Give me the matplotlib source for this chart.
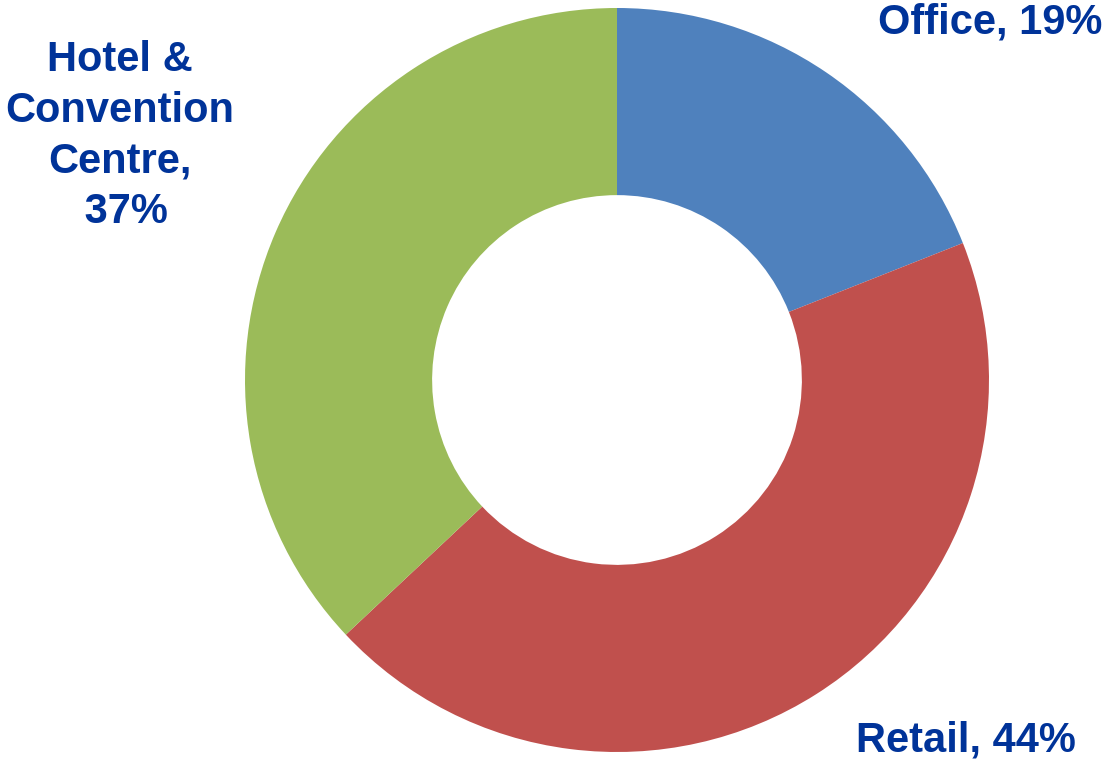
import matplotlib
matplotlib.use("Agg")
import matplotlib.pyplot as plt

categories = ["Office", "Retail", "Hotel & Convention Centre"]
values = [19, 44, 37]
colors = ["#4F81BD", "#C0504D", "#9BBB59"]
label_texts = ["Office, 19%", "Retail, 44%", "Hotel &\nConvention\nCentre,\n 37%"]

W, H = 1111, 761
fig = plt.figure(figsize=(W / 100, H / 100), dpi=100)
ax = fig.add_axes([0, 0, 1, 1])

cx, cy, R = 617, H - 380, 372
ax.pie(values, colors=colors, startangle=90, counterclock=False,
       center=(cx, cy), radius=R, frame=True,
       wedgeprops=dict(width=R * 0.503, linewidth=0))
ax.set_xlim(0, W)
ax.set_ylim(0, H)
ax.set_aspect("equal")
ax.axis("off")

txt = dict(color="#003399", fontweight="bold", family="Liberation Sans",
           fontsize=30, ha="center", va="center", linespacing=1.34)
ax.text(990, H - 22, label_texts[0], **txt)
ax.text(966, H - 740, label_texts[1], **txt)
ax.text(120, H - 136, label_texts[2], **txt)

fig.savefig("out.png", dpi=100)
